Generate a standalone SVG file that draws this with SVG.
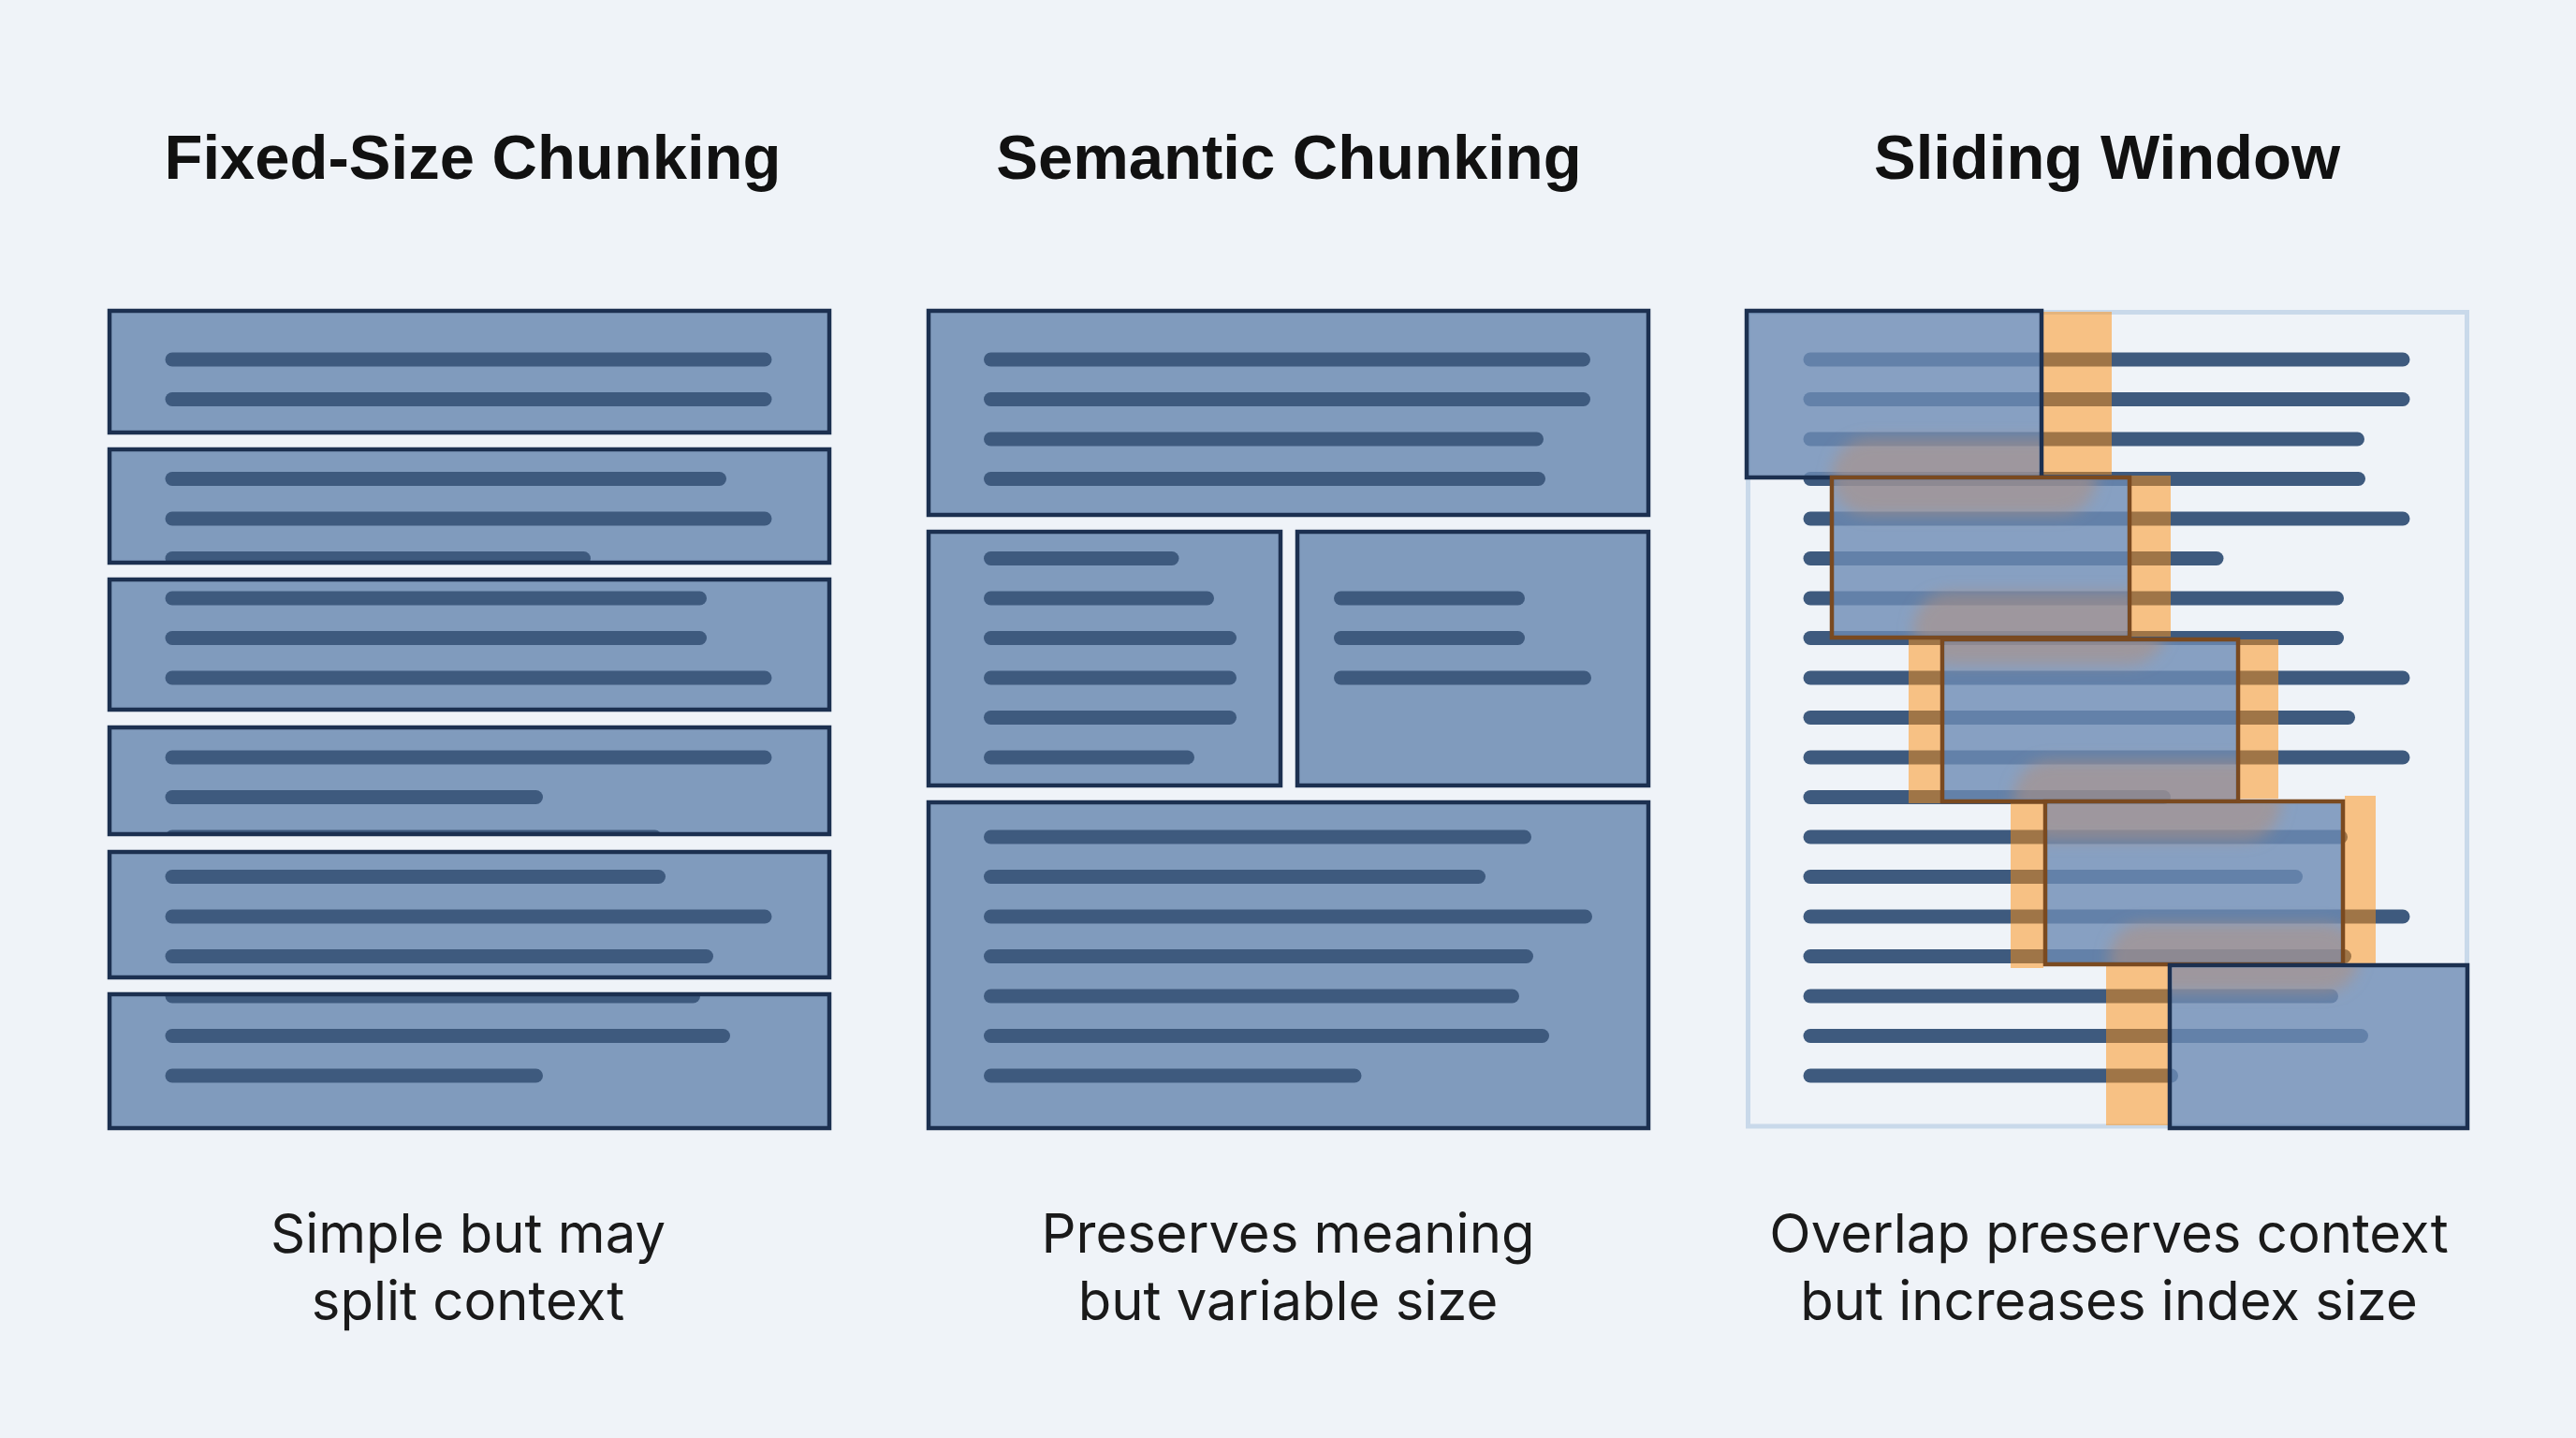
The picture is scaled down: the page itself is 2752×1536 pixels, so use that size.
<svg xmlns="http://www.w3.org/2000/svg" width="2752" height="1536" viewBox="0 0 2752 1536">
<defs>
<style>
.title{font-family:"Liberation Sans",Arial,sans-serif;font-weight:700;font-size:67px;fill:#111;text-anchor:middle}
.cap{font-family:Inter,"Liberation Sans",sans-serif;font-size:58px;fill:#1a1a1a;text-anchor:middle}
.bf{fill:#809bbd}
.bb{fill:none;stroke:#1c3050;stroke-width:4.5}
.ln{stroke:#3e5a7e;stroke-width:15;stroke-linecap:round;fill:none}
.wf{fill:#6d8bb4;fill-opacity:0.8}
.wn{fill:none;stroke:#1c3050;stroke-width:4.5}
.wr{fill:none;stroke:#7a4a20;stroke-width:4.5}
.ov{fill:#ff8f10;fill-opacity:0.5}
.blob{fill:#b09080;fill-opacity:0.55}
</style>
<clipPath id="c1"><rect x="117" y="332" width="769" height="130"/><rect x="117" y="480" width="769" height="121"/><rect x="117" y="619" width="769" height="139"/><rect x="117" y="777" width="769" height="114"/><rect x="117" y="910" width="769" height="134"/><rect x="117" y="1062" width="769" height="143"/></clipPath>
<clipPath id="cw"><rect x="1868.5" y="334.5" width="310" height="173"/><rect x="1959.5" y="512.5" width="313" height="166"/><rect x="2077.5" y="685.5" width="311" height="168"/><rect x="2187.5" y="858.5" width="313" height="169"/><rect x="2320.5" y="1033.5" width="313" height="169"/></clipPath>
<filter id="blur" x="-20%" y="-40%" width="140%" height="180%"><feGaussianBlur stdDeviation="8"/></filter>
</defs>
<rect width="2752" height="1536" fill="#eff3f8"/>

<g id="titles">
<text class="title" x="505" y="191">Fixed-Size Chunking</text>
<text class="title" x="1377" y="191">Semantic Chunking</text>
<text class="title" x="2251" y="191">Sliding Window</text>
</g>

<g id="panel-fixed">
<g id="fixed-chunks-fill" class="bf">
<rect x="117" y="332" width="769" height="130"/><rect x="117" y="480" width="769" height="121"/><rect x="117" y="619" width="769" height="139"/><rect x="117" y="777" width="769" height="114"/><rect x="117" y="910" width="769" height="134"/><rect x="117" y="1062" width="769" height="143"/>
</g>
<g id="fixed-lines" class="ln" clip-path="url(#c1)">
<line x1="184" y1="384" x2="817" y2="384"/>
<line x1="184" y1="426.5" x2="817" y2="426.5"/>
<line x1="184" y1="511.5" x2="768.5" y2="511.5"/>
<line x1="184" y1="554" x2="817" y2="554"/>
<line x1="184" y1="596.5" x2="623.5" y2="596.5"/>
<line x1="184" y1="639" x2="747.5" y2="639"/>
<line x1="184" y1="681.5" x2="747.5" y2="681.5"/>
<line x1="184" y1="724" x2="817" y2="724"/>
<line x1="184" y1="809" x2="817" y2="809"/>
<line x1="184" y1="851.5" x2="572.5" y2="851.5"/>
<line x1="184" y1="894" x2="699.5" y2="894"/>
<line x1="184" y1="936.5" x2="703.5" y2="936.5"/>
<line x1="184" y1="979" x2="817" y2="979"/>
<line x1="184" y1="1021.5" x2="754.5" y2="1021.5"/>
<line x1="184" y1="1064" x2="740.5" y2="1064"/>
<line x1="184" y1="1106.5" x2="772.5" y2="1106.5"/>
<line x1="184" y1="1149" x2="572.5" y2="1149"/>
</g>
<g id="fixed-chunk-1"><rect class="bb" x="117" y="332" width="769" height="130"/></g>
<g id="fixed-chunk-2"><rect class="bb" x="117" y="480" width="769" height="121"/></g>
<g id="fixed-chunk-3"><rect class="bb" x="117" y="619" width="769" height="139"/></g>
<g id="fixed-chunk-4"><rect class="bb" x="117" y="777" width="769" height="114"/></g>
<g id="fixed-chunk-5"><rect class="bb" x="117" y="910" width="769" height="134"/></g>
<g id="fixed-chunk-6"><rect class="bb" x="117" y="1062" width="769" height="143"/></g>
</g>

<g id="panel-semantic">
<g id="sem-chunk-1">
<rect class="bf" x="992" y="332" width="769" height="218"/>
<g class="ln">
<line x1="1058.5" y1="384" x2="1691.5" y2="384"/>
<line x1="1058.5" y1="426.5" x2="1691.5" y2="426.5"/>
<line x1="1058.5" y1="469" x2="1641.5" y2="469"/>
<line x1="1058.5" y1="511.5" x2="1643.5" y2="511.5"/>
</g>
<rect class="bb" x="992" y="332" width="769" height="218"/>
</g>
<g id="sem-chunk-2">
<rect class="bf" x="992" y="568" width="376" height="271"/>
<g class="ln">
<line x1="1058.5" y1="596.5" x2="1252" y2="596.5"/>
<line x1="1058.5" y1="639" x2="1289.5" y2="639"/>
<line x1="1058.5" y1="681.5" x2="1313.5" y2="681.5"/>
<line x1="1058.5" y1="724" x2="1313.5" y2="724"/>
<line x1="1058.5" y1="766.5" x2="1313.5" y2="766.5"/>
<line x1="1058.5" y1="809" x2="1268.5" y2="809"/>
</g>
<rect class="bb" x="992" y="568" width="376" height="271"/>
</g>
<g id="sem-chunk-3">
<rect class="bf" x="1386" y="568" width="375" height="271"/>
<g class="ln">
<line x1="1432.5" y1="639" x2="1621.5" y2="639"/>
<line x1="1432.5" y1="681.5" x2="1621.5" y2="681.5"/>
<line x1="1432.5" y1="724" x2="1692.5" y2="724"/>
</g>
<rect class="bb" x="1386" y="568" width="375" height="271"/>
</g>
<g id="sem-chunk-4">
<rect class="bf" x="992" y="857" width="769" height="348"/>
<g class="ln">
<line x1="1058.5" y1="894" x2="1628.5" y2="894"/>
<line x1="1058.5" y1="936.5" x2="1579.5" y2="936.5"/>
<line x1="1058.5" y1="979" x2="1693.5" y2="979"/>
<line x1="1058.5" y1="1021.5" x2="1630.5" y2="1021.5"/>
<line x1="1058.5" y1="1064" x2="1615.5" y2="1064"/>
<line x1="1058.5" y1="1106.5" x2="1647.5" y2="1106.5"/>
<line x1="1058.5" y1="1149" x2="1447" y2="1149"/>
</g>
<rect class="bb" x="992" y="857" width="769" height="348"/>
</g>
</g>

<g id="panel-sliding">
<g id="document">
<rect x="1867.5" y="333.5" width="768" height="869.5" fill="none" stroke="#c9d9ea" stroke-width="5"/>
<g class="ln">
<line x1="1934" y1="384" x2="2567" y2="384"/>
<line x1="1934" y1="426.5" x2="2567" y2="426.5"/>
<line x1="1934" y1="469" x2="2518.5" y2="469"/>
<line x1="1934" y1="511.5" x2="2519.5" y2="511.5"/>
<line x1="1934" y1="554" x2="2567" y2="554"/>
<line x1="1934" y1="596.5" x2="2368" y2="596.5"/>
<line x1="1934" y1="639" x2="2496.5" y2="639"/>
<line x1="1934" y1="681.5" x2="2496.5" y2="681.5"/>
<line x1="1934" y1="724" x2="2567" y2="724"/>
<line x1="1934" y1="766.5" x2="2508.5" y2="766.5"/>
<line x1="1934" y1="809" x2="2567" y2="809"/>
<line x1="1934" y1="851.5" x2="2311.5" y2="851.5"/>
<line x1="1934" y1="894" x2="2500.5" y2="894"/>
<line x1="1934" y1="936.5" x2="2452.5" y2="936.5"/>
<line x1="1934" y1="979" x2="2567" y2="979"/>
<line x1="1934" y1="1021.5" x2="2504.5" y2="1021.5"/>
<line x1="1934" y1="1064" x2="2490.5" y2="1064"/>
<line x1="1934" y1="1106.5" x2="2522.5" y2="1106.5"/>
<line x1="1934" y1="1149" x2="2319.5" y2="1149"/>
</g>
</g>
<g id="overlaps" class="ov">
<rect x="2183" y="333" width="73" height="174"/>
<rect x="2277" y="508" width="42" height="172"/>
<rect x="2039" y="683" width="34" height="175"/>
<rect x="2393" y="683" width="41" height="170"/>
<rect x="2148" y="856" width="35" height="178"/>
<rect x="2505" y="850" width="33" height="180"/>
<rect x="2250" y="1031" width="66" height="171"/>
</g>
<g id="window-1"><rect class="wf" x="1866" y="332" width="315" height="178"/><rect class="wn" x="1866" y="332" width="315" height="178"/></g>
<g id="window-2"><rect class="wf" x="1957" y="510" width="318" height="171"/><rect class="wr" x="1957" y="510" width="318" height="171"/></g>
<g id="window-3"><rect class="wf" x="2075" y="683" width="316" height="173"/><rect class="wr" x="2075" y="683" width="316" height="173"/></g>
<g id="window-4"><rect class="wf" x="2185" y="856" width="318" height="174"/><rect class="wr" x="2185" y="856" width="318" height="174"/></g>
<g id="window-5"><rect class="wf" x="2318" y="1031" width="318" height="174"/><rect class="wn" x="2318" y="1031" width="318" height="174"/></g>
<g id="overlap-shadows" clip-path="url(#cw)">
<g class="blob" filter="url(#blur)">
<rect x="1957" y="468" width="283" height="82" rx="40"/>
<rect x="2044" y="632" width="270" height="78" rx="40"/>
<rect x="2151" y="812" width="286" height="86" rx="40"/>
<rect x="2253" y="986" width="267" height="74" rx="38"/>
</g>
</g>
</g>

<g id="connectors"/>

<g id="captions">
<text class="cap" x="500" y="1338">Simple but may</text>
<text class="cap" x="500" y="1410">split context</text>
<text class="cap" x="1376" y="1338">Preserves meaning</text>
<text class="cap" x="1376" y="1410">but variable size</text>
<text class="cap" x="2253" y="1338">Overlap preserves context</text>
<text class="cap" x="2253" y="1410">but increases index size</text>
</g>
</svg>
